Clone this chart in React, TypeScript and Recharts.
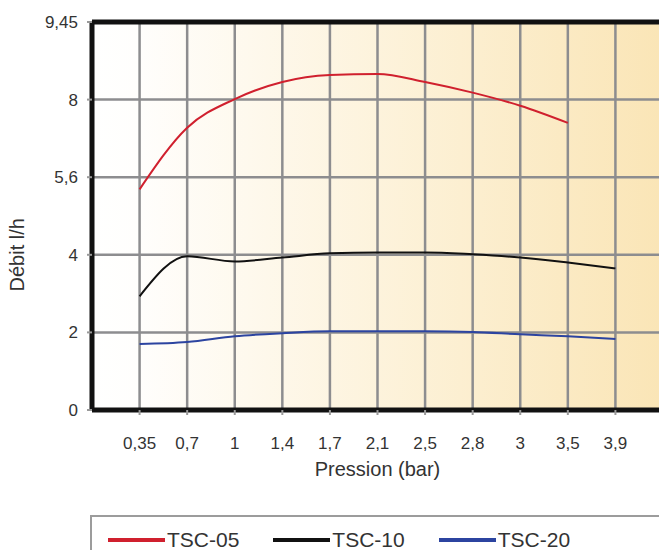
import React from 'react'
import { LineChart, Line, XAxis, YAxis, CartesianGrid, Legend, ReferenceLine } from 'recharts'

// pression (bar), one grid column each
const xLabels = ['0,35', '0,7', '1', '1,4', '1,7', '2,1', '2,5', '2,8', '3', '3,5', '3,9']
// the y axis is not linear: each label sits on an evenly spaced grid line
const yLabels = ['0', '2', '4', '5,6', '8', '9,45']
const yLevels = [0, 2, 4, 5.6, 8, 9.45]

// débit l/h
const tsc05 = [5.35, 7.13, 8.01, 8.33, 8.46, 8.48, 8.33, 8.13, 7.81, 7.28, null]
const tsc10 = [2.93, 3.96, 3.83, 3.93, 4.03, 4.05, 4.05, 4.01, 3.93, 3.8, 3.65]
const tsc20 = [1.7, 1.75, 1.9, 1.98, 2.03, 2.03, 2.03, 2.01, 1.95, 1.9, 1.83]

const FONT = '"Liberation Sans", Arial, sans-serif'

// map a real value onto the evenly spaced label positions
const toPos = (v: number | null) => {
  if (v == null) return null
  for (let i = 0; i < yLevels.length - 1; i++) {
    if (v <= yLevels[i + 1]) return i + (v - yLevels[i]) / (yLevels[i + 1] - yLevels[i])
  }
  return yLevels.length - 1
}

const data = xLabels.map((label, i) => ({
  x: i + 1,
  label,
  tsc05: toPos(tsc05[i]),
  tsc10: toPos(tsc10[i]),
  tsc20: toPos(tsc20[i])
}))

const renderLegend = (props: any) => (
  <div
    style={{
      boxSizing: 'border-box',
      height: 50,
      border: '2px solid #9c9c9c',
      display: 'flex',
      alignItems: 'center',
      paddingLeft: 16,
      fontFamily: FONT
    }}
  >
    {(props.payload || []).map((entry: any) => (
      <span key={entry.value} style={{ display: 'inline-flex', alignItems: 'center', marginRight: 34 }}>
        <span style={{ display: 'inline-block', width: 57, height: 4, background: entry.color }} />
        <span style={{ marginLeft: 2, fontSize: 21, color: '#333' }}>{entry.value}</span>
      </span>
    ))}
  </div>
)

const YTitle = (props: any) => {
  const { x, y, height } = props.viewBox
  const cx = x + 24
  const cy = y + height * 0.6
  return (
    <text
      x={cx}
      y={cy}
      transform={`rotate(-90 ${cx} ${cy})`}
      textAnchor="middle"
      fontSize={20}
      fontFamily={FONT}
      fill="#333"
    >
      Débit l/h
    </text>
  )
}

export default function App() {
  const tick = { fontSize: 17, fill: '#333', fontFamily: FONT }
  return (
    <div
      style={{
        position: 'fixed',
        left: 0,
        top: 0,
        width: 659,
        height: 550,
        overflow: 'hidden',
        background: '#fff',
        fontFamily: FONT
      }}
    >
      <LineChart width={720} height={600} data={data} margin={{ top: 22, right: 57, left: 0, bottom: 120 }}>
        <defs>
          <linearGradient id="bgGrad" x1="0" y1="0" x2="1" y2="0">
            <stop offset="0" stopColor="#ffffff" />
            <stop offset="0.08" stopColor="#fffefc" />
            <stop offset="0.5" stopColor="#fdf3dc" />
            <stop offset="1" stopColor="#fae5b6" />
          </linearGradient>
        </defs>
        <CartesianGrid stroke="#8d8d8f" strokeWidth={2.5} fill="url(#bgGrad)" fillOpacity={1} />
        <XAxis
          dataKey="x"
          type="number"
          domain={[0, 12]}
          ticks={[1, 2, 3, 4, 5, 6, 7, 8, 9, 10, 11]}
          tickFormatter={(v: number) => xLabels[v - 1]}
          height={70}
          axisLine={{ stroke: '#111', strokeWidth: 5 }}
          tickLine={{ stroke: '#999', strokeWidth: 2 }}
          tickSize={5}
          tickMargin={22}
          tick={tick}
          label={{
            value: 'Pression (bar)',
            position: 'insideBottom',
            offset: 4,
            style: { fontSize: 20, fill: '#333', fontFamily: FONT }
          }}
        />
        <YAxis
          type="number"
          domain={[0, 5]}
          ticks={[0, 1, 2, 3, 4, 5]}
          tickFormatter={(v: number) => yLabels[v]}
          width={92}
          axisLine={{ stroke: '#111', strokeWidth: 5 }}
          tickLine={{ stroke: '#999', strokeWidth: 2 }}
          tickSize={5}
          tickMargin={9}
          tick={tick}
          label={<YTitle />}
        />
        <ReferenceLine y={5} stroke="#111" strokeWidth={5} />
        <Line
          type="monotone"
          dataKey="tsc05"
          name="TSC-05"
          stroke="#d0202e"
          strokeWidth={2}
          dot={false}
          isAnimationActive={false}
        />
        <Line
          type="monotone"
          dataKey="tsc10"
          name="TSC-10"
          stroke="#111111"
          strokeWidth={2}
          dot={false}
          isAnimationActive={false}
        />
        <Line
          type="monotone"
          dataKey="tsc20"
          name="TSC-20"
          stroke="#2c44a0"
          strokeWidth={2}
          dot={false}
          isAnimationActive={false}
        />
        <Legend
          layout="horizontal"
          verticalAlign="middle"
          align="center"
          content={renderLegend}
          wrapperStyle={{ left: 90, top: 515, width: 640, height: 50 }}
        />
      </LineChart>
    </div>
  )
}
